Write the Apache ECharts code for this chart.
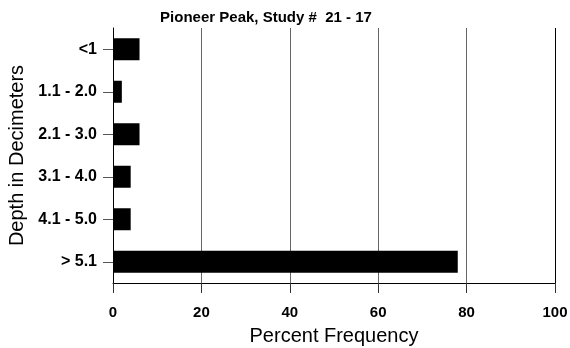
<!DOCTYPE html>
<html>
<head>
<meta charset="utf-8">
<script src="https://cdn.jsdelivr.net/npm/echarts@6/dist/echarts.min.js"></script>
<style>html,body{margin:0;padding:0;background:#fff}#c{width:570px;height:348px}</style>
</head>
<body>
<div id="c"></div>
<script>
const categories = ['<1', '1.1 - 2.0', '2.1 - 3.0', '3.1 - 4.0', '4.1 - 5.0', '> 5.1'];
const percentValues = [6, 2, 6, 4, 4, 78];
const xTicks = [0, 20, 40, 60, 80, 100];

const chart = echarts.init(document.getElementById('c'), null, {renderer: 'canvas'});
chart.setOption({
  animation: false,
  backgroundColor: '#fff',
  title: {
    text: 'Pioneer Peak, Study #  21 - 17',
    left: 261, top: 5, textAlign: 'center',
    textStyle: {fontFamily: 'Liberation Sans', fontWeight: 'bold', fontSize: 15, color: '#000'}
  },
  grid: {left: 113, right: 15, top: 28, bottom: 65, containLabel: false, outerBoundsMode: 'none'},
  xAxis: {
    type: 'value', min: xTicks[0], max: xTicks[xTicks.length - 1], interval: 20,
    name: 'Percent Frequency', nameLocation: 'middle', nameGap: 43,
    nameTextStyle: {fontFamily: 'Liberation Sans', fontSize: 20, color: '#000'},
    axisLine: {show: true, lineStyle: {color: '#000', width: 1}},
    axisTick: {show: true, length: 10, lineStyle: {color: '#333', width: 1}},
    axisLabel: {margin: 22, fontFamily: 'Liberation Sans', fontWeight: 'bold', fontSize: 15, color: '#000'},
    splitLine: {show: true, lineStyle: {color: ['#000', '#666', '#666', '#666', '#666', '#000'], width: 1}}
  },
  yAxis: {
    type: 'category', data: categories, inverse: true,
    name: 'Depth in Decimeters', nameLocation: 'middle', nameGap: 86, nameRotate: 90,
    nameTextStyle: {fontFamily: 'Liberation Sans', fontSize: 20, color: '#000'},
    axisLine: {show: true, lineStyle: {color: '#000', width: 1}},
    axisTick: {show: true, alignWithLabel: true, length: 10, lineStyle: {color: '#555'}},
    axisLabel: {margin: 16, fontFamily: 'Liberation Sans', fontWeight: 'bold', fontSize: 16, color: '#000'}
  },
  series: [{
    type: 'bar', data: percentValues, barWidth: 22,
    itemStyle: {color: '#000', borderColor: '#222', borderWidth: 0}
  }]
});
</script>
</body>
</html>
